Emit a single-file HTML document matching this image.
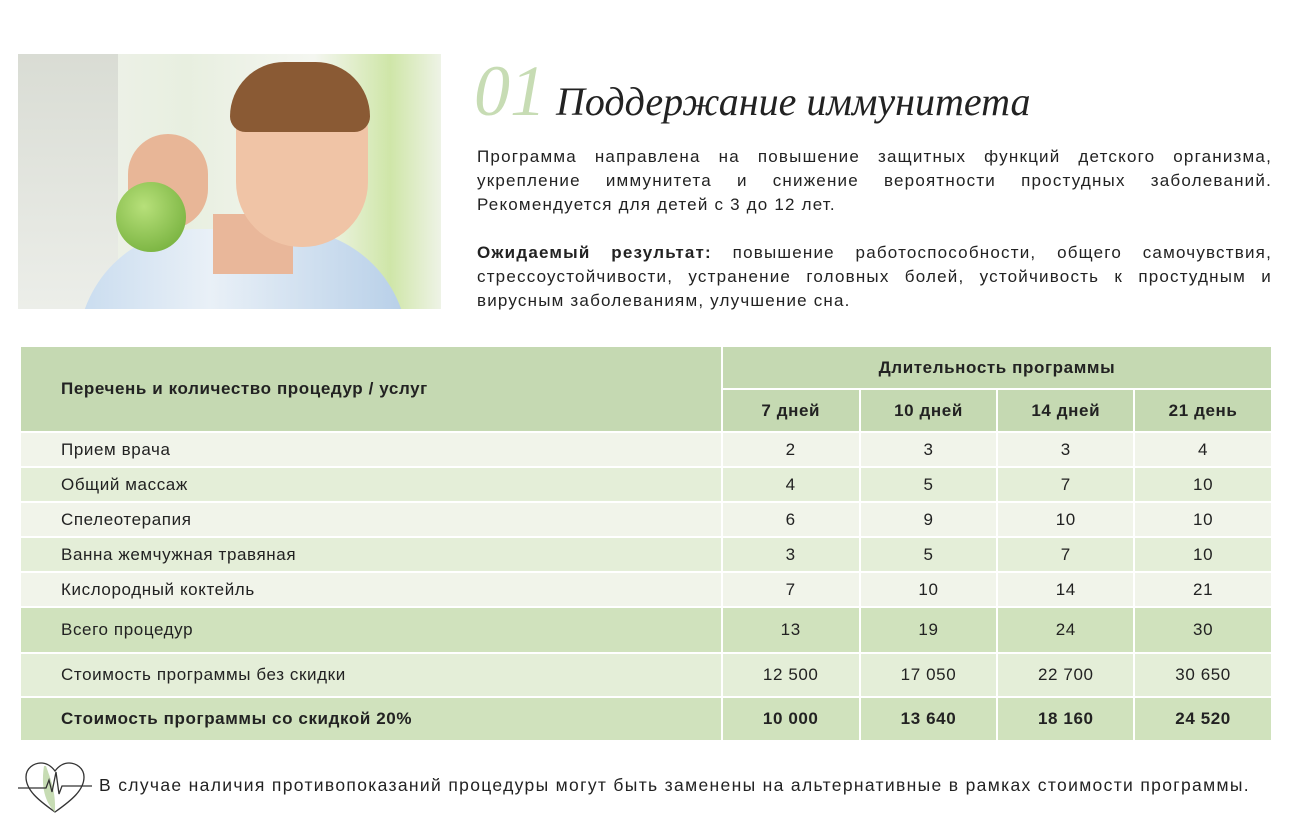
<!DOCTYPE html>
<html><head><meta charset="utf-8"><style>
body{margin:0;width:1292px;height:831px;background:#fff;font-family:"Liberation Sans",sans-serif;color:#222;position:relative;overflow:hidden}
.photo{position:absolute;left:18px;top:54px;width:423px;height:255px;overflow:hidden;background:linear-gradient(90deg,#f2f3ef 0%,#e8efe0 40%,#f4f6f0 70%,#cfe6a8 88%,#eef3e6 100%)}
.h1{position:absolute;left:474px;top:50px;font-family:"Liberation Serif",serif;font-style:italic;white-space:nowrap}
.p{position:absolute;left:477px;width:795px;font-size:17px;line-height:24px;color:#222;letter-spacing:1.2px}
.p div{text-align:justify;text-align-last:justify;white-space:nowrap;height:24px}
.p div.e{text-align-last:left}
table{position:absolute;left:19px;top:345px;width:1254px;border-collapse:collapse;font-size:17px;letter-spacing:0.6px}
td{border:2px solid #fff;padding:0;text-align:center}
td.l{text-align:left;padding-left:40px}
.hd{background:#c5d9b2;font-weight:bold}
.a{background:#f1f4ea}.b{background:#e4eed8}.c{background:#d0e2bd}.d{background:#e4eed8}
</style></head><body>
<div class="photo">
<div style="position:absolute;left:0;top:0;width:100px;height:255px;background:linear-gradient(#d9dcd4,#eceee9)"></div>
<div style="position:absolute;left:60px;top:175px;width:330px;height:140px;border-radius:120px 120px 0 0;background:linear-gradient(90deg,#c9dcef,#e9f0f7 40%,#b7cfe8)"></div>
<div style="position:absolute;left:195px;top:160px;width:80px;height:60px;background:#e9b79a"></div>
<div style="position:absolute;left:218px;top:18px;width:132px;height:175px;border-radius:60px 60px 65px 65px;background:#f0c4a6"></div>
<div style="position:absolute;left:212px;top:8px;width:140px;height:70px;border-radius:70px 70px 20px 20px;background:#8a5a34"></div>
<div style="position:absolute;left:110px;top:80px;width:80px;height:95px;border-radius:40px;background:#e8b697"></div>
<div style="position:absolute;left:98px;top:128px;width:70px;height:70px;border-radius:50%;background:radial-gradient(circle at 40% 35%,#b7e07a,#6aa832)"></div>
</div>
<div class="h1"><span style="font-size:72px;color:#c7dcb4;font-weight:normal">01</span><span style="font-size:40px;color:#222;margin-left:10px">Поддержание иммунитета</span></div>
<div class="p" style="top:145px"><div>Программа направлена на повышение защитных функций детского организма,</div><div>укрепление иммунитета и снижение вероятности простудных заболеваний.</div><div class="e">Рекомендуется для детей с 3 до 12 лет.</div></div>
<div class="p" style="top:241px"><div><b>Ожидаемый результат:</b> повышение работоспособности, общего самочувствия,</div><div>стрессоустойчивости, устранение головных болей, устойчивость к простудным и</div><div class="e">вирусным заболеваниям, улучшение сна.</div></div>
<table>
<colgroup><col style="width:703px"><col style="width:138px"><col style="width:138px"><col style="width:137px"><col style="width:138px"></colgroup>
<tr style="height:43px"><td class="hd l" rowspan="2" style="padding-left:40px">Перечень и количество процедур / услуг</td><td class="hd" colspan="4">Длительность программы</td></tr>
<tr style="height:43px"><td class="hd">7 дней</td><td class="hd">10 дней</td><td class="hd">14 дней</td><td class="hd">21 день</td></tr>
<tr style="height:35px" class="a"><td class="l">Прием врача</td><td>2</td><td>3</td><td>3</td><td>4</td></tr>
<tr style="height:35px" class="b"><td class="l">Общий массаж</td><td>4</td><td>5</td><td>7</td><td>10</td></tr>
<tr style="height:35px" class="a"><td class="l">Спелеотерапия</td><td>6</td><td>9</td><td>10</td><td>10</td></tr>
<tr style="height:35px" class="b"><td class="l">Ванна жемчужная травяная</td><td>3</td><td>5</td><td>7</td><td>10</td></tr>
<tr style="height:35px" class="a"><td class="l">Кислородный коктейль</td><td>7</td><td>10</td><td>14</td><td>21</td></tr>
<tr style="height:46px" class="c"><td class="l">Всего процедур</td><td>13</td><td>19</td><td>24</td><td>30</td></tr>
<tr style="height:44px" class="d"><td class="l">Стоимость программы без скидки</td><td>12 500</td><td>17 050</td><td>22 700</td><td>30 650</td></tr>
<tr style="height:44px;font-weight:bold" class="c"><td class="l">Стоимость программы со скидкой 20%</td><td>10 000</td><td>13 640</td><td>18 160</td><td>24 520</td></tr>
</table>
<svg style="position:absolute;left:18px;top:760px" width="74" height="56" viewBox="0 0 74 56">
<path d="M37 52 C20 40 8 30 8 17 C8 8 16 3 23 3 C30 3 34 7 37 11 C40 7 44 3 51 3 C58 3 66 8 66 17 C66 30 54 40 37 52Z" fill="none" stroke="#333" stroke-width="1.3"/>
<path d="M28 6 C32 18 38 30 37 52 C30 45 22 32 26 6Z" fill="#c7dcb4"/>
<path d="M0 28 H28 L31 20 L34 32 L38 12 L41 34 L44 26 H74" fill="none" stroke="#333" stroke-width="1.3"/>
</svg>
<div style="position:absolute;left:99px;top:775px;font-size:17.5px;color:#222;white-space:nowrap;letter-spacing:1.33px">В случае наличия противопоказаний процедуры могут быть заменены на альтернативные в рамках стоимости программы.</div>
</body></html>
